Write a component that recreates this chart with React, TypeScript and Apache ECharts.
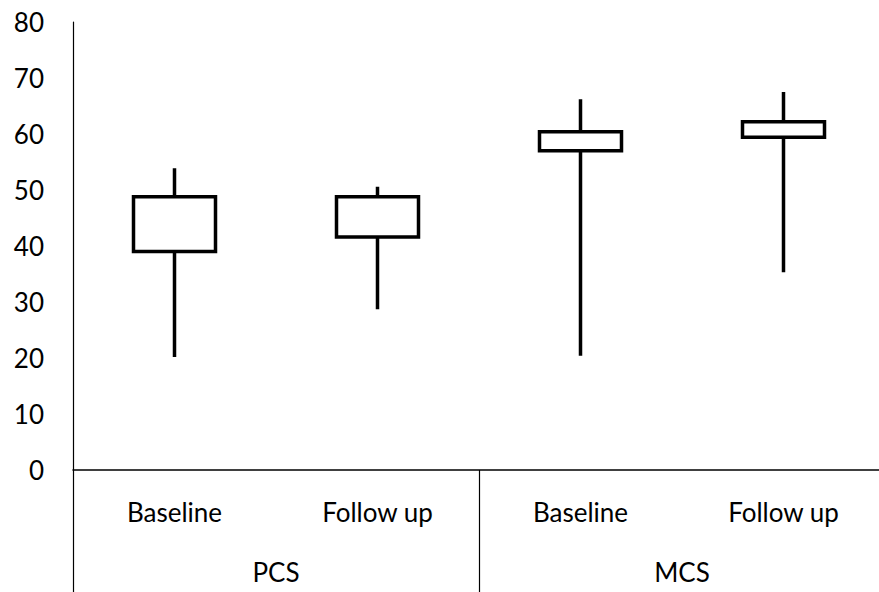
import React, { useEffect, useRef } from "react";
import * as echarts from "echarts";

const categories = ["Baseline", "Follow up", "Baseline", "Follow up"];
const groups = ["PCS", "MCS"];
const boxLow = [39.0, 41.6, 57.0, 59.4];
const boxHigh = [48.8, 48.8, 60.4, 62.2];
const whiskerLow = [20.2, 28.7, 20.4, 35.3];
const whiskerHigh = [53.9, 50.6, 66.2, 67.5];
const yTicks = [0, 10, 20, 30, 40, 50, 60, 70, 80];

const FONT = "Lato, 'Open Sans', sans-serif";

export default function App() {
  const ref = useRef<HTMLDivElement>(null);
  useEffect(() => {
    if (!ref.current) return;
    const chart = echarts.init(ref.current, null, { renderer: "svg" });
    const data = categories.map((_, i) => [boxLow[i], boxHigh[i], whiskerLow[i], whiskerHigh[i]]);
    chart.setOption({
      animation: false,
      backgroundColor: "#ffffff",
      grid: { left: 73, width: 812, top: 22, bottom: 122, containLabel: false, outerBoundsMode: "none" },
      xAxis: [
        {
          type: "category",
          data: categories,
          position: "bottom",
          axisLine: { show: true, lineStyle: { color: "#000", width: 1.5 } },
          axisTick: { show: false },
          axisLabel: { color: "#000", fontSize: 26, fontFamily: FONT, margin: 29, interval: 0 },
          splitLine: { show: false },
        },
        {
          type: "category",
          data: groups,
          position: "bottom",
          offset: 0,
          axisLine: { show: false },
          axisTick: { show: true, length: 124, interval: 0, lineStyle: { color: "#000", width: 1.2 } },
          axisLabel: { color: "#000", fontSize: 26, fontFamily: FONT, margin: 89, interval: 0 },
          splitLine: { show: false },
        },
      ],
      yAxis: {
        type: "value",
        min: yTicks[0],
        max: yTicks[yTicks.length - 1],
        interval: 10,
        axisLine: { show: true, lineStyle: { color: "#000", width: 1.2 } },
        axisTick: { show: false },
        splitLine: { show: false },
        axisLabel: { color: "#000", fontSize: 26, fontFamily: FONT, margin: 29 },
      },
      series: [
        {
          type: "candlestick",
          xAxisIndex: 0,
          data,
          barWidth: 82,
          itemStyle: {
            color: "#ffffff",
            color0: "#ffffff",
            borderColor: "#000000",
            borderColor0: "#000000",
            borderWidth: 3.5,
          },
        },
      ],
    });
    return () => chart.dispose();
  }, []);
  return <div ref={ref} style={{ width: 879, height: 592, position: "absolute", left: 0, top: 0 }} />;
}
